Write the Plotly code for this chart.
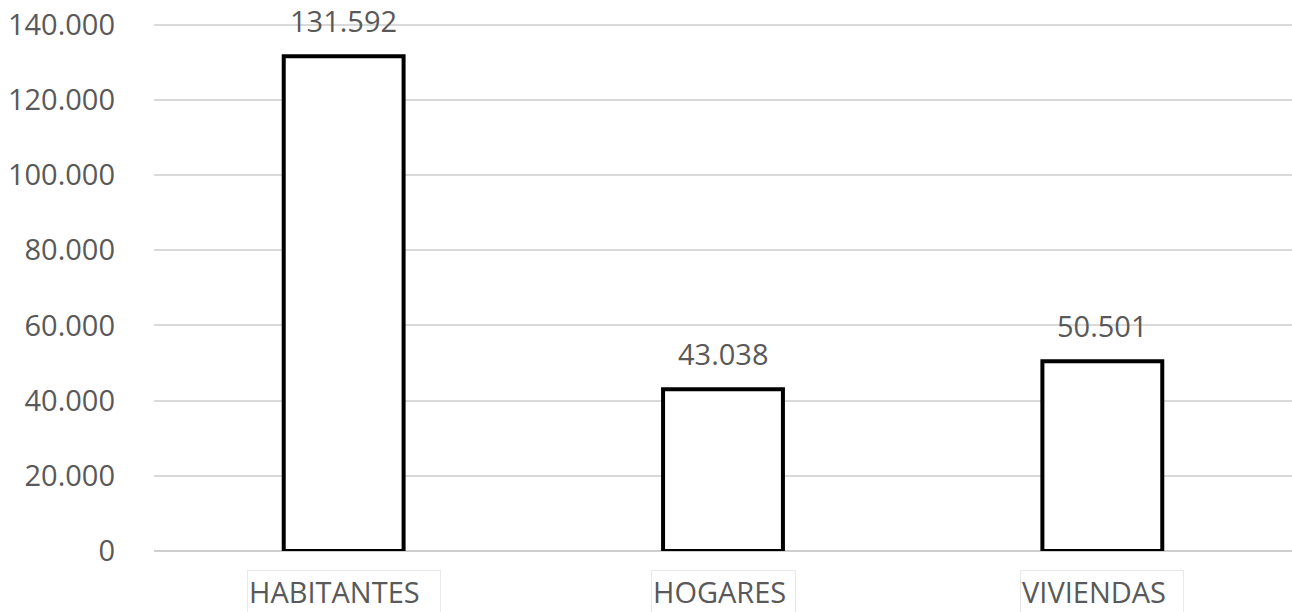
import plotly.graph_objects as go

categories = ["HABITANTES", "HOGARES", "VIVIENDAS"]
values = [131592, 43038, 50501]
value_labels = ["131.592", "43.038", "50.501"]
tick_vals = [0, 20000, 40000, 60000, 80000, 100000, 120000, 140000]
tick_text = ["0", "20.000", "40.000", "60.000", "80.000", "100.000", "120.000", "140.000"]

FONT = "Open Sans"
TXT = "#595959"
BOX_W = {"HABITANTES": 190, "HOGARES": 141, "VIVIENDAS": 160}

fig = go.Figure()
fig.add_trace(go.Bar(
    x=categories, y=values,
    marker=dict(color="white", line=dict(color="black", width=4)),
    width=0.316,
))

annotations = []
for c, v, t in zip(categories, values, value_labels):
    annotations.append(dict(x=c, y=v, xref="x", yref="y", text=t, showarrow=False,
                            yanchor="bottom", yshift=14,
                            font=dict(family=FONT, size=29, color=TXT)))
    annotations.append(dict(x=c, y=0, xref="x", yref="paper", text=c, showarrow=False,
                            yanchor="top", yshift=-19, xanchor="center",
                            width=BOX_W[c], align="left",
                            bordercolor="#e8e8e8", borderwidth=1, borderpad=1,
                            font=dict(family=FONT, size=29, color=TXT)))

fig.update_layout(
    width=1292, height=612,
    margin=dict(l=154, r=0, t=21, b=61),
    plot_bgcolor="white", paper_bgcolor="white",
    showlegend=False,
    annotations=annotations,
    xaxis=dict(showticklabels=False, showgrid=False, showline=False, zeroline=False,
               range=[-0.5, 2.5]),
    yaxis=dict(range=[0, 141000], tickvals=tick_vals, ticktext=tick_text,
               showgrid=True, gridcolor="#d9d9d9", gridwidth=2,
               zeroline=True, zerolinecolor="#cfcfcf", zerolinewidth=2,
               showline=False, ticklabelstandoff=38,
               tickfont=dict(family=FONT, size=29, color=TXT)),
)

fig.write_html("out.html", config={"displayModeBar": False},
               post_script="document.body.style.margin='0';document.body.style.overflow='hidden';")
